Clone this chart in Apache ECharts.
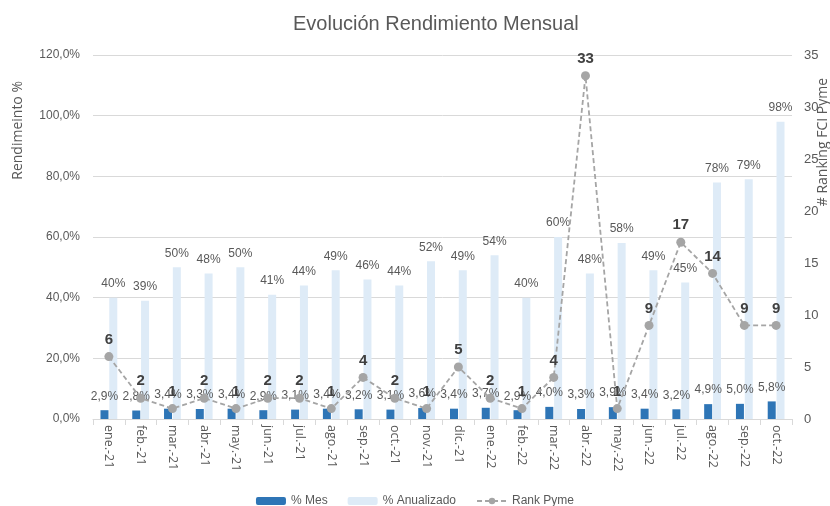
<!DOCTYPE html>
<html><head><meta charset="utf-8">
<script src="https://cdn.jsdelivr.net/npm/echarts@6/dist/echarts.min.js"></script>
<style>html,body{margin:0;padding:0;background:#fff}#c{width:830px;height:506px}</style>
</head><body><div id="c"></div>
<script>
const categories = ["ene.-21","feb.-21","mar.-21","abr.-21","may.-21","jun.-21","jul.-21","ago.-21","sep.-21","oct.-21","nov.-21","dic.-21","ene.-22","feb.-22","mar.-22","abr.-22","may.-22","jun.-22","jul.-22","ago.-22","sep.-22","oct.-22"];
const mesValues = [2.9,2.8,3.4,3.3,3.4,2.9,3.1,3.4,3.2,3.1,3.6,3.4,3.7,2.9,4.0,3.3,3.9,3.4,3.2,4.9,5.0,5.8];
const anualValues = [40,39,50,48,50,41,44,49,46,44,52,49,54,40,60,48,58,49,45,78,79,98];
const rankValues = [6,2,1,2,1,2,2,1,4,2,1,5,2,1,4,33,1,9,17,14,9,9];
const seriesNames = ["% Mes","% Anualizado","Rank Pyme"];
const titleText = "Evolución Rendimiento Mensual";
const leftAxisName = "Rendimeinto %";
const rightAxisName = "# Ranking FCI Pyme";

const txt = '#595959';
const numFont = "'Liberation Sans', Arial, sans-serif";
const uiFont = "'Open Sans', 'Noto Sans', sans-serif";
const chart = echarts.init(document.getElementById('c'), null, {renderer:'canvas'});
chart.setOption({
  animation:false,
  backgroundColor:'#fff',
  title:{text:titleText,left:288,top:9,textStyle:{fontFamily:"'Liberation Sans Narrow','Liberation Sans',sans-serif",fontSize:20,fontWeight:'normal',color:txt}},
  graphic:[
    {type:'text',left:11,top:81,rotation:Math.PI/2,style:{text:leftAxisName,font:"14px 'Open Sans', sans-serif",fill:txt}},
    {type:'text',right:0,top:78,rotation:Math.PI/2,style:{text:rightAxisName,font:"14px 'Open Sans', sans-serif",fill:txt}}
  ],
  legend:{top:490,left:'center',itemWidth:30,itemHeight:8,itemGap:20,textStyle:{color:txt,fontSize:12,fontFamily:numFont},data:seriesNames},
  grid:{left:93,right:38,top:55,bottom:87,containLabel:false},
  xAxis:{type:'category',data:categories,
    axisLine:{lineStyle:{color:'#D9D9D9'}},
    axisTick:{show:true,alignWithLabel:false,length:6,lineStyle:{color:'#D9D9D9'}},
    axisLabel:{rotate:-90,margin:6,color:txt,fontSize:12.5,fontFamily:uiFont,interval:0}},
  yAxis:[
    {type:'value',min:0,max:120,interval:20,
     axisLabel:{formatter:v=>v.toFixed(1).replace('.',',')+'%',color:txt,fontSize:12,fontFamily:numFont,margin:13},
     axisLine:{show:false},axisTick:{show:false},
     splitLine:{lineStyle:{color:'#D9D9D9'}}},
    {type:'value',min:0,max:35,interval:5,position:'right',
     axisLabel:{color:txt,fontSize:13,fontFamily:numFont,margin:12},
     axisLine:{show:false},axisTick:{show:false},splitLine:{show:false}}
  ],
  series:[
    {name:seriesNames[0],type:'bar',data:mesValues,barWidth:8,barGap:'10%',
     itemStyle:{color:'#2E75B6'},
     label:{show:true,position:'top',distance:8,color:txt,fontSize:12,fontFamily:numFont,
       formatter:p=>p.value.toFixed(1).replace('.',',')+'%'}},
    {name:seriesNames[1],type:'bar',data:anualValues,barWidth:8,barGap:'10%',
     itemStyle:{color:'#DEEBF7'},
     label:{show:true,position:'top',distance:8,color:txt,fontSize:12,fontFamily:numFont,
       formatter:p=>Math.round(p.value)+'%'}},
    {name:seriesNames[2],type:'line',yAxisIndex:1,data:rankValues,z:5,
     symbol:'circle',symbolSize:9,
     itemStyle:{color:'#A5A5A5'},
     lineStyle:{color:'#A5A5A5',width:1.8,type:[5,3]},
     label:{show:true,position:'top',distance:5,color:'#404040',fontSize:15,fontWeight:'bold',fontFamily:numFont}}
  ]
});
</script></body></html>
